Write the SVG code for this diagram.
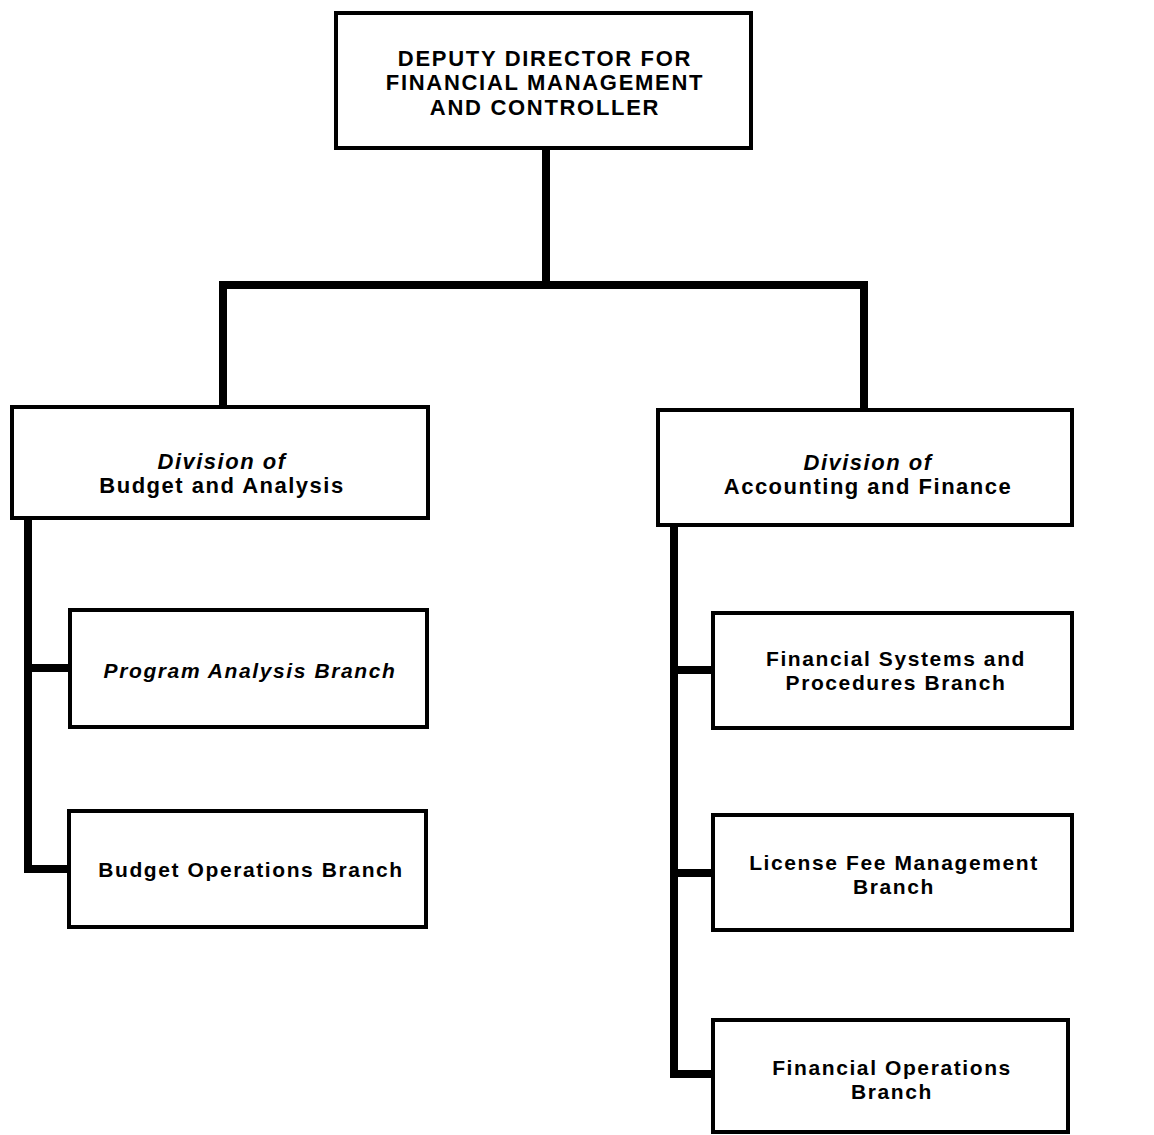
<svg xmlns="http://www.w3.org/2000/svg" width="1154" height="1135" viewBox="0 0 1154 1135">
<style>
.box{fill:#fff;stroke:#000;stroke-width:4}
.con{fill:none;stroke:#000;stroke-width:8;stroke-linejoin:miter;stroke-linecap:square}
text{font-family:"Liberation Sans",Arial,sans-serif;font-weight:bold;fill:#000;text-anchor:middle}
.top{font-size:22px;letter-spacing:1.7px}
.div{font-size:22px;letter-spacing:1.5px}
.br{font-size:21px;letter-spacing:1.6px}
.it{font-style:italic}
</style>
<rect width="1154" height="1135" fill="#fff"/>
<g id="connectors">
<path class="con" d="M546,150 V285 M223,285 H864 M223,285 V407 M864,285 V410"/>
<path class="con" d="M28,520 V869 H69 M28,668 H70"/>
<path class="con" d="M674,527 V1074 H713 M674,670 H713 M674,873 H713"/>
</g>
<g id="director">
<rect class="box" x="336" y="13" width="415" height="135"/>
<text class="top" x="545" y="65.5">DEPUTY DIRECTOR FOR</text>
<text class="top" x="545" y="90">FINANCIAL MANAGEMENT</text>
<text class="top" x="545" y="114.5">AND CONTROLLER</text>
</g>
<g id="div-budget">
<rect class="box" x="12" y="407" width="416" height="111"/>
<text class="div it" x="222" y="469">Division of</text>
<text class="div" x="222" y="493">Budget and Analysis</text>
</g>
<g id="div-accounting">
<rect class="box" x="658" y="410" width="414" height="115"/>
<text class="div it" x="868" y="470">Division of</text>
<text class="div" x="868" y="494">Accounting and Finance</text>
</g>
<g id="program-analysis">
<rect class="box" x="70" y="610" width="357" height="117"/>
<text class="br it" x="250" y="678">Program Analysis Branch</text>
</g>
<g id="budget-operations">
<rect class="box" x="69" y="811" width="357" height="116"/>
<text class="br" x="251" y="877">Budget Operations Branch</text>
</g>
<g id="financial-systems">
<rect class="box" x="713" y="613" width="359" height="115"/>
<text class="br" x="896" y="666">Financial Systems and</text>
<text class="br" x="896" y="690">Procedures Branch</text>
</g>
<g id="license-fee">
<rect class="box" x="713" y="815" width="359" height="115"/>
<text class="br" x="894" y="870">License Fee Management</text>
<text class="br" x="894" y="894">Branch</text>
</g>
<g id="financial-operations">
<rect class="box" x="713" y="1020" width="355" height="112"/>
<text class="br" x="892" y="1075">Financial Operations</text>
<text class="br" x="892" y="1099">Branch</text>
</g>
</svg>
